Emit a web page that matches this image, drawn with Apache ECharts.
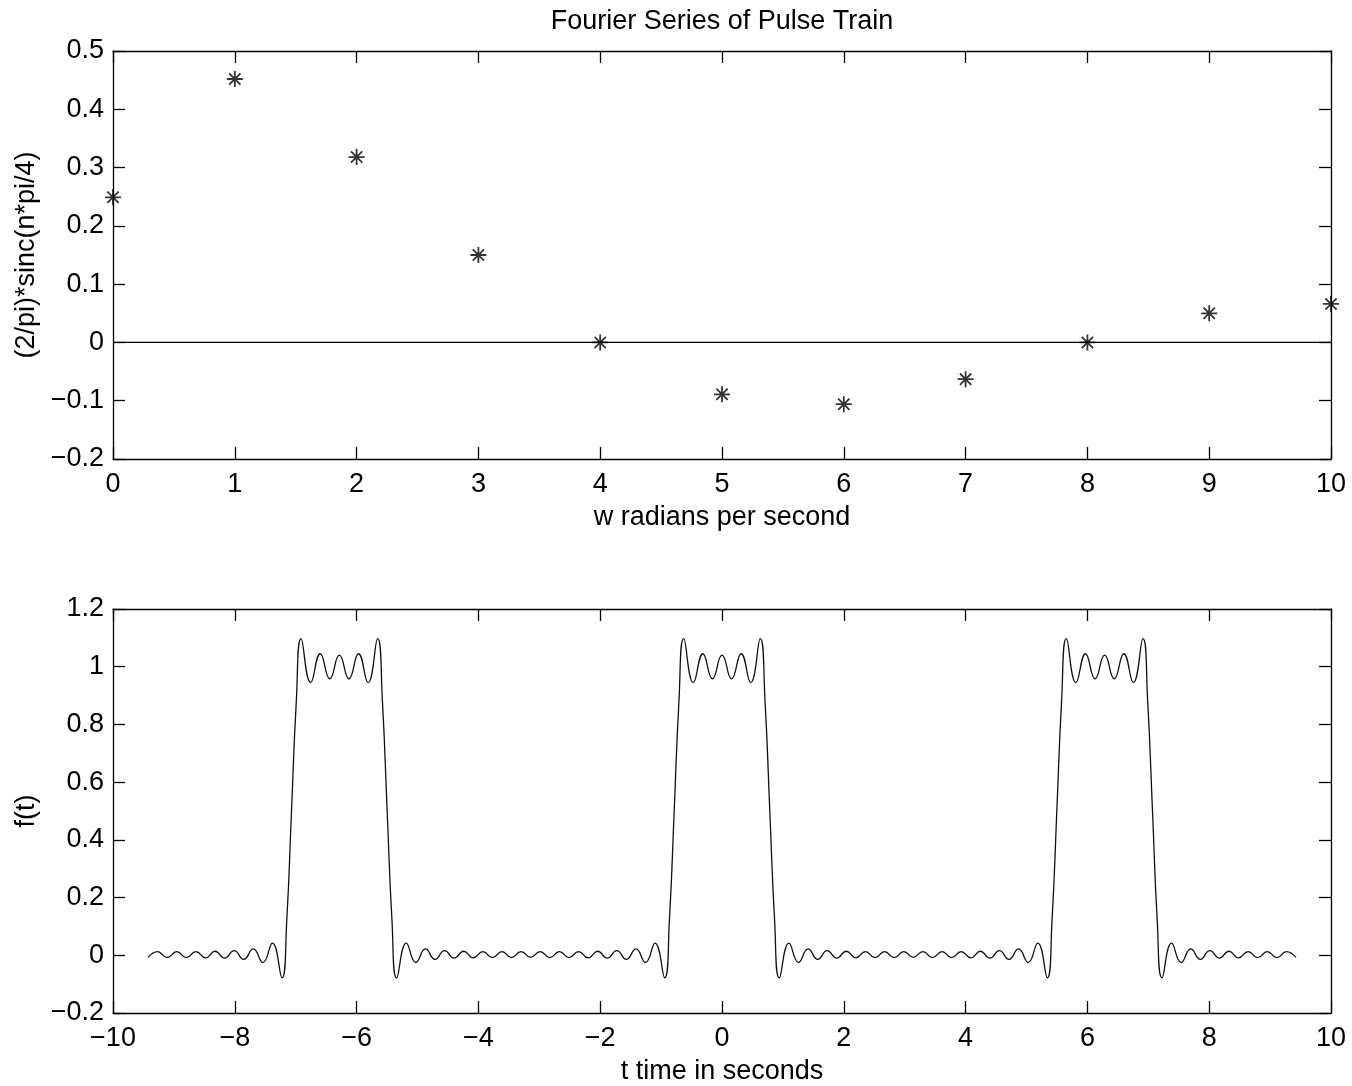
<!DOCTYPE html>
<html>
<head>
<meta charset="utf-8">
<script src="https://cdn.jsdelivr.net/npm/echarts@6/dist/echarts.min.js"></script>
<style>
html,body{margin:0;padding:0;background:#fff;}
#chart{width:1352px;height:1086px;}
</style>
</head>
<body>
<div id="chart"></div>
<script>
// ---- Top plot: Fourier coefficients ----
const coefN = [0, 1, 2, 3, 4, 5, 6, 7, 8, 9, 10];
const coefValues = [0.249, 0.452, 0.318, 0.150, 0.000, -0.089, -0.106, -0.063, 0.000, 0.050, 0.066];
const zeroLineX = [0, 10];
const zeroLineY = [0, 0];

// ---- Bottom plot: reconstructed pulse train ----
const pulseT = [
 -9.425,-9.268,-9.111,-8.954,-8.796,-8.639,-8.482,-8.325,-8.168,-8.011,-7.854,-7.697,-7.540,-7.383,-7.226,
 -7.147,-7.069,-6.990,
 -6.912,-6.754,-6.597,-6.440,-6.283,-6.126,-5.969,-5.812,-5.655,
 -5.576,-5.498,-5.419,
 -5.341,-5.184,-5.027,-4.869,-4.712,-4.555,-4.398,-4.241,-4.084,-3.927,-3.770,-3.613,-3.456,-3.299,-3.142,
 -2.985,-2.827,-2.670,-2.513,-2.356,-2.199,-2.042,-1.885,-1.728,-1.571,-1.414,-1.257,-1.100,-0.942,
 -0.864,-0.785,-0.707,
 -0.628,-0.471,-0.314,-0.157,
 0,
 0.157,0.314,0.471,0.628,
 0.707,0.785,0.864,
 0.942,1.100,1.257,1.414,1.571,1.728,1.885,2.042,2.199,2.356,2.513,2.670,2.827,2.985,
 3.142,3.299,3.456,3.613,3.770,3.927,4.084,4.241,4.398,4.555,4.712,4.869,5.027,5.184,5.341,
 5.419,5.498,5.576,
 5.655,5.812,5.969,6.126,6.283,6.440,6.597,6.754,6.912,
 6.990,7.069,7.147,
 7.226,7.383,7.540,7.697,7.854,8.011,8.168,8.325,8.482,8.639,8.796,8.954,9.111,9.268,9.425
];
const pulseF = [
 -0.007,0.013,-0.008,0.013,-0.008,0.013,-0.009,0.014,-0.010,0.016,-0.014,0.022,-0.025,0.042,-0.078,
 0.12,0.50,0.88,
 1.097,0.945,1.045,0.958,1.040,0.958,1.045,0.945,1.097,
 0.88,0.50,0.12,
 -0.078,0.042,-0.025,0.022,-0.014,0.016,-0.010,0.014,-0.009,0.013,-0.008,0.013,-0.008,0.013,-0.007,
 0.013,-0.008,0.013,-0.008,0.013,-0.009,0.014,-0.010,0.016,-0.014,0.022,-0.025,0.042,-0.078,
 0.12,0.50,0.88,
 1.097,0.945,1.045,0.958,
 1.040,
 0.958,1.045,0.945,1.097,
 0.88,0.50,0.12,
 -0.078,0.042,-0.025,0.022,-0.014,0.016,-0.010,0.014,-0.009,0.013,-0.008,0.013,-0.008,0.013,
 -0.007,0.013,-0.008,0.013,-0.008,0.013,-0.009,0.014,-0.010,0.016,-0.014,0.022,-0.025,0.042,-0.078,
 0.12,0.50,0.88,
 1.097,0.945,1.045,0.958,1.040,0.958,1.045,0.945,1.097,
 0.88,0.50,0.12,
 -0.078,0.042,-0.025,0.022,-0.014,0.016,-0.010,0.014,-0.009,0.013,-0.008,0.013,-0.008,0.013,-0.007
];

const titleText = 'Fourier Series of Pulse Train';
const topXName = 'w radians per second';
const topYName = '(2/pi)*sinc(n*pi/4)';
const botXName = 't time in seconds';
const botYName = 'f(t)';

const FONT = '"Liberation Sans", Arial, Helvetica, sans-serif';
const FS = 27;
const minusFmt = v => String(v).replace('-', '\u2212');

function labelStyle(margin) {
  return { show: true, color: '#000', fontSize: FS, fontFamily: FONT, margin: margin, formatter: minusFmt, showMinLabel: true, showMaxLabel: true };
}
function mainAxis(extra) {
  return Object.assign({
    type: 'value',
    axisLine: { show: true, onZero: false, lineStyle: { color: '#000', width: 1.3 } },
    axisTick: { show: true, inside: true, length: 12, lineStyle: { color: '#000', width: 1.3 } },
    splitLine: { show: false },
    nameTextStyle: { color: '#000', fontSize: FS, fontFamily: FONT },
    nameLocation: 'middle'
  }, extra);
}
function mirrorAxis(extra) {
  return Object.assign({
    type: 'value',
    axisLine: { show: true, onZero: false, lineStyle: { color: '#000', width: 1.3 } },
    axisTick: { show: true, inside: true, length: 12, lineStyle: { color: '#000', width: 1.3 } },
    splitLine: { show: false },
    axisLabel: { show: false }
  }, extra);
}

const asterisk = 'path://M0,-10L0,10M-10,0L10,0M-7.07,-7.07L7.07,7.07M-7.07,7.07L7.07,-7.07';

const chart = echarts.init(document.getElementById('chart'), null, { renderer: 'canvas' });
chart.setOption({
  backgroundColor: '#fff',
  animation: false,
  graphic: [{
    type: 'text', x: 722, y: 22, silent: true,
    style: { text: titleText, fill: '#000', font: FS + 'px ' + FONT, textAlign: 'center', textVerticalAlign: 'middle' }
  }],
  grid: [
    { left: 113, top: 51, width: 1218, height: 408 },
    { left: 113, top: 609, width: 1218, height: 407 }
  ],
  xAxis: [
    mainAxis({ gridIndex: 0, position: 'bottom', min: 0, max: 10, interval: 1, name: topXName, nameGap: 45, axisLabel: labelStyle(12) }),
    mirrorAxis({ gridIndex: 0, position: 'top', min: 0, max: 10, interval: 1 }),
    mainAxis({ gridIndex: 1, position: 'bottom', min: -10, max: 10, interval: 2, name: botXName, nameGap: 45, axisLabel: labelStyle(12) }),
    mirrorAxis({ gridIndex: 1, position: 'top', min: -10, max: 10, interval: 2 })
  ],
  yAxis: [
    mainAxis({ gridIndex: 0, position: 'left', min: -0.2, max: 0.5, interval: 0.1, name: topYName, nameGap: 63, axisLabel: labelStyle(9) }),
    mirrorAxis({ gridIndex: 0, position: 'right', min: -0.2, max: 0.5, interval: 0.1 }),
    mainAxis({ gridIndex: 1, position: 'left', min: -0.2, max: 1.2, interval: 0.2, name: botYName, nameGap: 63, axisLabel: labelStyle(9) }),
    mirrorAxis({ gridIndex: 1, position: 'right', min: -0.2, max: 1.2, interval: 0.2 })
  ],
  series: [
    {
      type: 'line', xAxisIndex: 0, yAxisIndex: 0,
      data: zeroLineX.map((x, i) => [x, zeroLineY[i]]),
      showSymbol: false, symbol: 'none',
      lineStyle: { color: '#000', width: 1.3 }, silent: true
    },
    {
      type: 'scatter', xAxisIndex: 0, yAxisIndex: 0,
      data: coefN.map((n, i) => [n, coefValues[i]]),
      symbol: asterisk, symbolSize: 16, clip: false,
      itemStyle: { color: 'rgba(0,0,0,0)', borderColor: '#000', borderWidth: 1.8 }
    },
    {
      type: 'line', xAxisIndex: 2, yAxisIndex: 2,
      data: pulseT.map((t, i) => [t, pulseF[i]]),
      showSymbol: false, symbol: 'none', smooth: 0.5,
      lineStyle: { color: '#111', width: 1.3 }
    }
  ]
});
</script>
</body>
</html>
